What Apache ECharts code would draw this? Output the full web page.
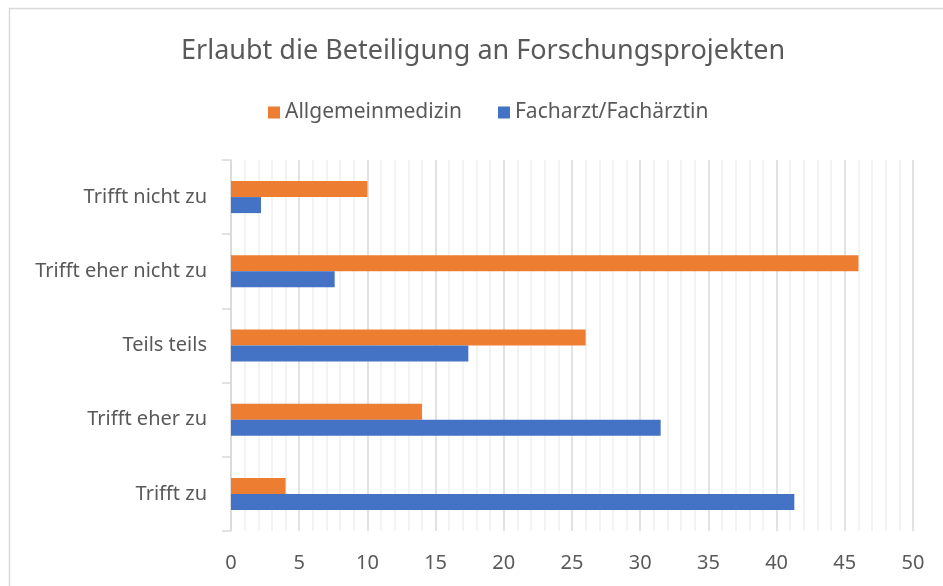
<!DOCTYPE html>
<html>
<head>
<meta charset="utf-8">
<script src="https://cdn.jsdelivr.net/npm/echarts@6/dist/echarts.min.js"></script>
<style>
html, body { margin: 0; padding: 0; background: #fff; }
#chart { width: 943px; height: 586px; }
</style>
</head>
<body>
<div id="chart"></div>
<script>
// Kategorien (von unten nach oben)
var categories = ['Trifft zu', 'Trifft eher zu', 'Teils teils', 'Trifft eher nicht zu', 'Trifft nicht zu'];
// Werte
var allgemeinmedizin = [4, 14, 26, 46, 10];
var facharzt = [41.3, 31.5, 17.4, 7.6, 2.2];
var seriesNames = ['Allgemeinmedizin', 'Facharzt/Fachärztin'];

var textColor = '#595959';
var fontFam = 'Noto Sans';

var chart = echarts.init(document.getElementById('chart'));

var option = {
	backgroundColor: '#fff',
	textStyle: { fontFamily: fontFam },
	graphic: [{
		type: 'rect',
		shape: { x: 9.5, y: 8.5, width: 950, height: 600 },
		style: { fill: 'none', stroke: '#d9d9d9', lineWidth: 1.5 },
		silent: true
	}],
	title: {
		text: 'Erlaubt die Beteiligung an Forschungsprojekten',
		left: 176,
		top: 33,
		textStyle: { color: textColor, fontSize: 27, fontWeight: 'normal', fontFamily: fontFam }
	},
	legend: {
		data: seriesNames,
		top: 97,
		left: 263,
		itemWidth: 12,
		itemHeight: 12,
		itemGap: 36,
		icon: 'rect',
		textStyle: { color: textColor, fontSize: 21, fontFamily: fontFam }
	},
	grid: { left: 231, right: 30, top: 160, bottom: 55 },
	xAxis: {
		type: 'value',
		min: 0,
		max: 50,
		interval: 5,
		axisLine: { show: false },
		axisTick: { show: false },
		axisLabel: { color: textColor, fontSize: 20, margin: 22, fontFamily: fontFam },
		splitLine: { show: true, lineStyle: { color: '#d9d9d9', width: 1.5 } },
		minorTick: { show: false, splitNumber: 5 },
		minorSplitLine: { show: true, lineStyle: { color: '#f0f0f0', width: 1.5 } }
	},
	yAxis: {
		type: 'category',
		data: categories,
		axisLine: { show: true, lineStyle: { color: '#d9d9d9', width: 1.5 } },
		axisTick: { show: true, length: 9, lineStyle: { color: '#d9d9d9', width: 1.5 } },
		axisLabel: { color: textColor, fontSize: 20, margin: 24, fontFamily: fontFam }
	},
	series: [{
		name: seriesNames[0],
		type: 'bar',
		data: allgemeinmedizin,
		barWidth: 16,
		barGap: '0%',
		itemStyle: { color: '#ed7d31' }
	}, {
		name: seriesNames[1],
		type: 'bar',
		data: facharzt,
		barWidth: 16,
		barGap: '0%',
		itemStyle: { color: '#4472c4' }
	}]
};

chart.setOption(option);
</script>
</body>
</html>
